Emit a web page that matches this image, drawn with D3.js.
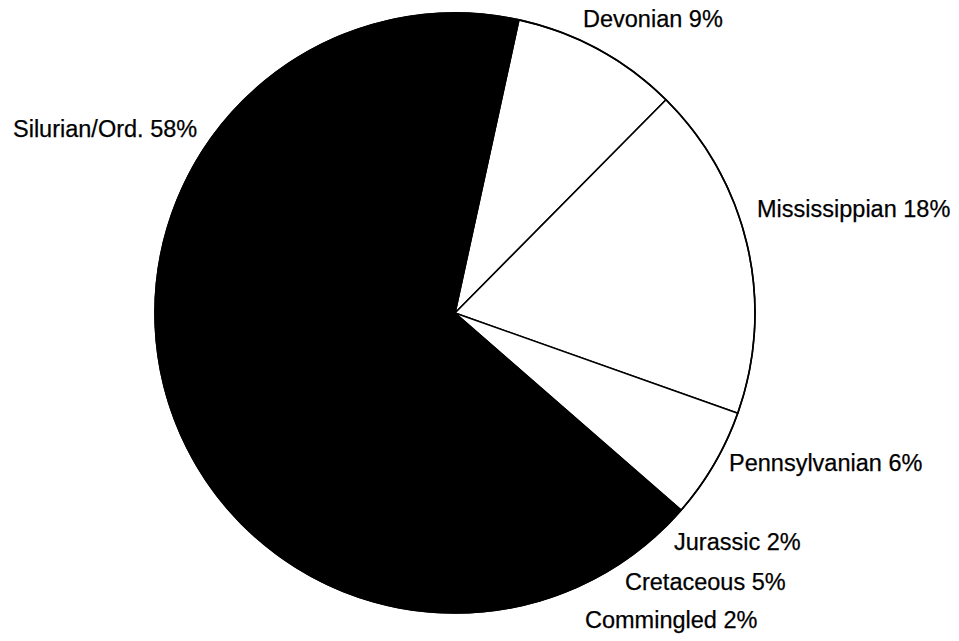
<!DOCTYPE html>
<html>
<head>
<meta charset="utf-8">
<script src="https://cdn.jsdelivr.net/npm/d3@7"></script>
<style>
  html, body { margin: 0; padding: 0; background: #fff; }
  svg { display: block; }
  text { font-family: "Liberation Sans", Arial, Helvetica, sans-serif; fill: #000; }
</style>
</head>
<body>
<svg id="chart" width="959" height="641"></svg>
<script>
// ---- data ----
const categories = ["Devonian", "Mississippian", "Pennsylvanian", "Jurassic", "Cretaceous", "Commingled", "Silurian/Ord."];
const percents   = [9, 18, 6, 2, 5, 2, 58];
const labelTexts = ["Devonian 9%", "Mississippian 18%", "Pennsylvanian 6%", "Jurassic 2%", "Cretaceous 5%", "Commingled 2%", "Silurian/Ord. 58%"];
const fills      = ["#ffffff", "#ffffff", "#ffffff", "#000000", "#000000", "#000000", "#000000"];

// ---- layout ----
const W = 959, H = 641;
const cx = 455, cy = 313, R = 300;
const startDeg = 12.3;
// label anchor positions (left x, baseline y)
const labelPos = [[583, 27], [757, 217], [729, 471], [674, 550], [625, 590], [585, 628], [13, 137]];

const svg = d3.select("#chart");
svg.append("rect").attr("width", W).attr("height", H).attr("fill", "#fff");

const data = categories.map((c, i) => ({ name: c, value: percents[i], fill: fills[i], label: labelTexts[i] }));

const start = startDeg * Math.PI / 180;
const pie = d3.pie().sort(null).value(d => d.value)
  .startAngle(start).endAngle(start + 2 * Math.PI);
const arc = d3.arc().innerRadius(0).outerRadius(R);

const g = svg.append("g").attr("transform", `translate(${cx},${cy})`);
g.selectAll("path.slice")
  .data(pie(data))
  .join("path")
  .attr("class", "slice")
  .attr("d", arc)
  .attr("fill", d => d.data.fill)
  .attr("stroke", "#000")
  .attr("stroke-width", 1.6)
  .attr("stroke-linejoin", "round");

g.append("circle").attr("r", R).attr("fill", "none").attr("stroke", "#000").attr("stroke-width", 1.6);

svg.selectAll("text.lbl")
  .data(data)
  .join("text")
  .attr("class", "lbl")
  .attr("x", (d, i) => labelPos[i][0])
  .attr("y", (d, i) => labelPos[i][1])
  .attr("font-size", 23.5)
  .attr("stroke", "#000")
  .attr("stroke-width", 0.25)
  .text(d => d.label);
</script>
</body>
</html>
